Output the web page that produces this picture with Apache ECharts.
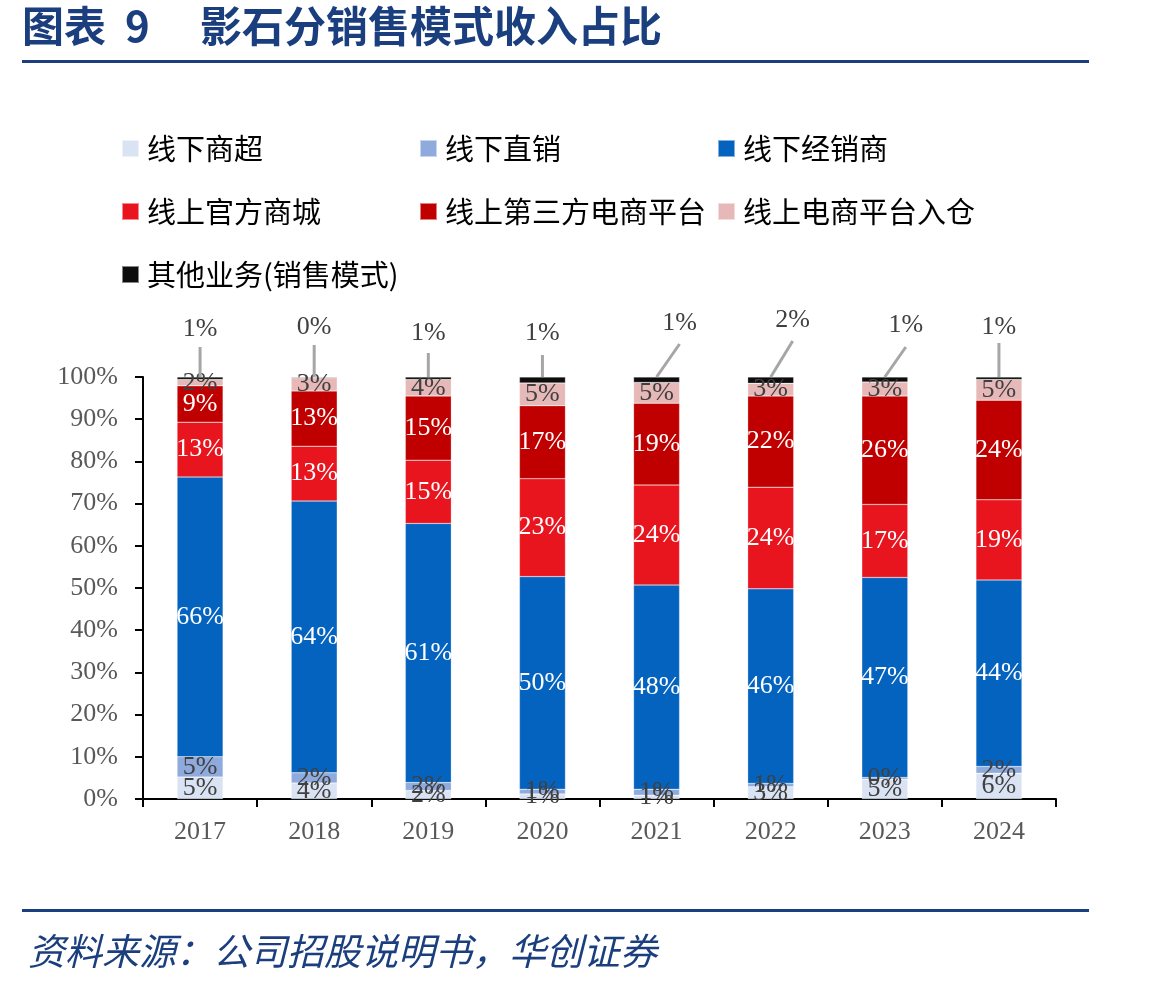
<!DOCTYPE html>
<html>
<head>
<meta charset="utf-8">
<script src="https://cdn.jsdelivr.net/npm/echarts@6/dist/echarts.min.js"></script>
<style>
  html, body { margin: 0; padding: 0; background: #fff; }
  #chart { width: 1149px; height: 987px; }
</style>
</head>
<body>
<div id="chart"></div>
<script>
var years = ['2017', '2018', '2019', '2020', '2021', '2022', '2023', '2024'];
var seriesNames = ['线下商超', '线下直销', '线下经销商', '线上官方商城', '线上第三方电商平台', '线上电商平台入仓', '其他业务(销售模式)'];

// share of revenue, %
var offlineSuper = [5.2, 3.8, 2.0, 1.2, 0.9, 2.9, 4.7, 6.1];
var offlineDirect = [4.8, 2.4, 1.9, 1.1, 1.4, 0.8, 0.4, 1.6];
var offlineDealer = [66.3, 64.4, 61.4, 50.4, 48.4, 46.1, 47.4, 44.2];
var onlineOfficial = [13.0, 13.0, 15.0, 23.2, 23.7, 24.1, 17.3, 19.0];
var onlineThird = [8.6, 13.1, 15.2, 17.3, 19.4, 21.6, 25.7, 23.6];
var onlineWarehouse = [1.5, 3.1, 3.9, 5.4, 4.9, 3.0, 3.3, 4.9];
var otherBiz = [0.6, 0.2, 0.6, 1.4, 1.3, 1.5, 1.2, 0.6];

var colors = ['#DAE3F3', '#8FAADC', '#0563C0', '#E8141E', '#C00000', '#E6B8B7', '#0D0D0D'];
var labelColors = ['#404040', '#404040', '#fff', '#fff', '#fff', '#404040', '#404040'];

// leader line / label offsets for the top (black) segment, px
var leadDx = [0, 0, 0, 0, 23, 22, 21, 0];
var leadLen = [30, 32, 24, 22, 33, 36, 30, 34];
var leadTextDy = [48, 50, 44, 44, 54, 57, 52, 50];

var chart = echarts.init(document.getElementById('chart'));
var serif = '"Liberation Serif", "Times New Roman", serif';
var cjk = '"Noto Sans CJK SC", sans-serif';

var allData = [offlineSuper, offlineDirect, offlineDealer, onlineOfficial, onlineThird, onlineWarehouse, otherBiz];

var series = [];
for (var i = 0; i < allData.length; ++i) {
  series.push({
    name: seriesNames[i],
    type: 'bar',
    stack: 'total',
    barWidth: 46,
    data: allData[i],
    itemStyle: { color: colors[i], borderColor: 'rgba(255,255,255,0.5)', borderWidth: 0.5 },
    label: {
      show: i < allData.length - 1,
      position: 'inside',
      color: labelColors[i],
      fontFamily: serif,
      fontSize: 26,
      formatter: function (p) { return Math.round(p.value) + '%'; }
    }
  });
}

// leader-line labels for 其他业务, anchored at the top of each stack
var topData = otherBiz.map(function (v, i) {
  var total = 0;
  for (var k = 0; k < allData.length; ++k) total += allData[k][i];
  return [i, total, v];
});
series.push({
  type: 'custom',
  name: 'leader',
  silent: true,
  data: topData,
  encode: { x: 0, y: 1 },
  renderItem: function (params, api) {
    var idx = params.dataIndex;
    var p = api.coord([api.value(0), api.value(1)]);
    var x2 = p[0] + leadDx[idx];
    return {
      type: 'group',
      children: [{
        type: 'line',
        shape: { x1: p[0], y1: p[1], x2: x2, y2: p[1] - leadLen[idx] },
        style: { stroke: '#A6A6A6', lineWidth: 3 }
      }, {
        type: 'text',
        x: x2,
        y: p[1] - leadTextDy[idx],
        style: {
          text: Math.round(api.value(2)) + '%',
          font: '26px ' + serif,
          fill: '#404040',
          align: 'center',
          verticalAlign: 'middle'
        }
      }]
    };
  },
  z: 5
});

var option = {
  backgroundColor: '#fff',
  animation: false,
  graphic: [
    { type: 'text', left: 22, top: 5, style: { text: '图表  9', font: 'bold 42px ' + cjk, fill: '#1B3F7E' } },
    { type: 'text', left: 200, top: 5, style: { text: '影石分销售模式收入占比', font: 'bold 42px ' + cjk, fill: '#1B3F7E' } },
    { type: 'rect', shape: { x: 22, y: 60, width: 1067, height: 3 }, style: { fill: '#1B3F7E' } },
    { type: 'rect', shape: { x: 22, y: 909, width: 1067, height: 3 }, style: { fill: '#1B3F7E' } },
    { type: 'text', left: 28, top: 932, style: { text: '资料来源：公司招股说明书，华创证券', font: 'italic 37px ' + cjk, fill: '#1B3F7E' } }
  ],
  legend: {
    left: 121,
    top: 122,
    width: 960,
    padding: 0,
    itemWidth: 17,
    itemHeight: 17,
    itemGap: 10,
    icon: 'rect',
    data: seriesNames,
    textStyle: {
      fontFamily: cjk,
      fontSize: 29,
      color: '#000',
      width: 262,
      lineHeight: 53,
      padding: [0, 0, 0, 3],
      overflow: 'none'
    }
  },
  grid: { left: 143, right: 93, top: 377, bottom: 188 },
  xAxis: {
    type: 'category',
    data: years,
    axisLine: { lineStyle: { color: '#000', width: 2 } },
    axisTick: { show: true, length: 8, lineStyle: { color: '#000', width: 2 } },
    axisLabel: { color: '#595959', fontFamily: serif, fontSize: 26, margin: 20 }
  },
  yAxis: {
    type: 'value',
    min: 0,
    max: 100,
    interval: 10,
    axisLine: { show: true, lineStyle: { color: '#000', width: 2 } },
    axisTick: { show: true, length: 8, lineStyle: { color: '#000', width: 2 } },
    splitLine: { show: false },
    axisLabel: { color: '#595959', fontFamily: serif, fontSize: 26, margin: 25, formatter: '{value}%' }
  },
  series: series
};

chart.setOption(option);
</script>
</body>
</html>
